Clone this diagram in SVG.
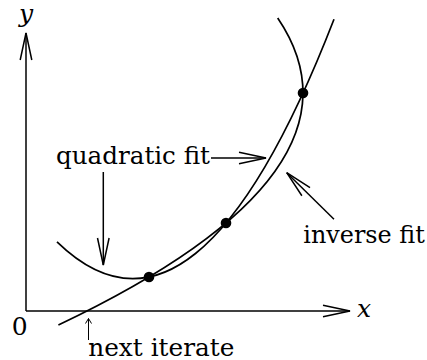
<svg xmlns="http://www.w3.org/2000/svg" width="427" height="360" viewBox="0 0 427 360">
<style>
.ln{fill:none;stroke:#000;stroke-width:1.5}
.cv{fill:none;stroke:#000;stroke-width:1.7}
text{font-family:"DejaVu Serif",serif;font-size:25px;fill:#000}
.it{font-style:italic}
.dot{fill:#000}
</style>
<defs>
<marker id="ah" markerUnits="userSpaceOnUse" orient="auto" refX="0" refY="0" markerWidth="60" markerHeight="60" overflow="visible">
<path d="M-27,-5.8 L0,0 L-27,5.8" fill="none" stroke="#000" stroke-width="1.5"/>
</marker>
<marker id="sh" markerUnits="userSpaceOnUse" orient="auto" refX="0" refY="0" markerWidth="20" markerHeight="20" overflow="visible">
<path d="M-5,-3 L0,0 L-5,3" fill="none" stroke="#000" stroke-width="1"/>
</marker>
</defs>
<g id="connectors">
<line id="y-axis" class="ln" x1="26" y1="311" x2="26" y2="33" marker-end="url(#ah)"/>
<line id="x-axis" class="ln" x1="26" y1="311" x2="350" y2="311" marker-end="url(#ah)"/>
<path id="quadratic-fit" class="cv" d="M57,241.9 Q195.5,376.4 334,19.2"/>
<path id="inverse-fit" class="cv" d="M58.4,325 Q381.6,171.5 277.7,18"/>
<line id="arrow-quad-h" class="ln" x1="211" y1="158" x2="266" y2="158" marker-end="url(#ah)"/>
<line id="arrow-quad-v" class="ln" x1="103.3" y1="172" x2="103.3" y2="265" marker-end="url(#ah)"/>
<line id="arrow-inverse" class="ln" x1="334" y1="219.3" x2="286.7" y2="172.7" marker-end="url(#ah)"/>
<line id="arrow-next" fill="none" stroke="#000" stroke-width="1" x1="88.5" y1="340" x2="88.5" y2="318.5" marker-end="url(#sh)"/>
</g>
<g id="points">
<circle class="dot" cx="149" cy="277" r="5.3"/>
<circle class="dot" cx="226" cy="223" r="5.3"/>
<circle class="dot" cx="303" cy="93" r="5.3"/>
</g>
<g id="labels">
<text id="label-y" class="it" x="19" y="22">y</text>
<text id="label-x" class="it" x="357" y="317">x</text>
<text id="label-0" x="11.7" y="335">0</text>
<text id="label-quad" x="56" y="164.3" textLength="154" lengthAdjust="spacingAndGlyphs">quadratic fit</text>
<text id="label-inverse" x="303.3" y="243.3" textLength="121.5" lengthAdjust="spacingAndGlyphs">inverse fit</text>
<text id="label-next" x="88.3" y="356" textLength="146" lengthAdjust="spacingAndGlyphs">next iterate</text>
</g>
</svg>
